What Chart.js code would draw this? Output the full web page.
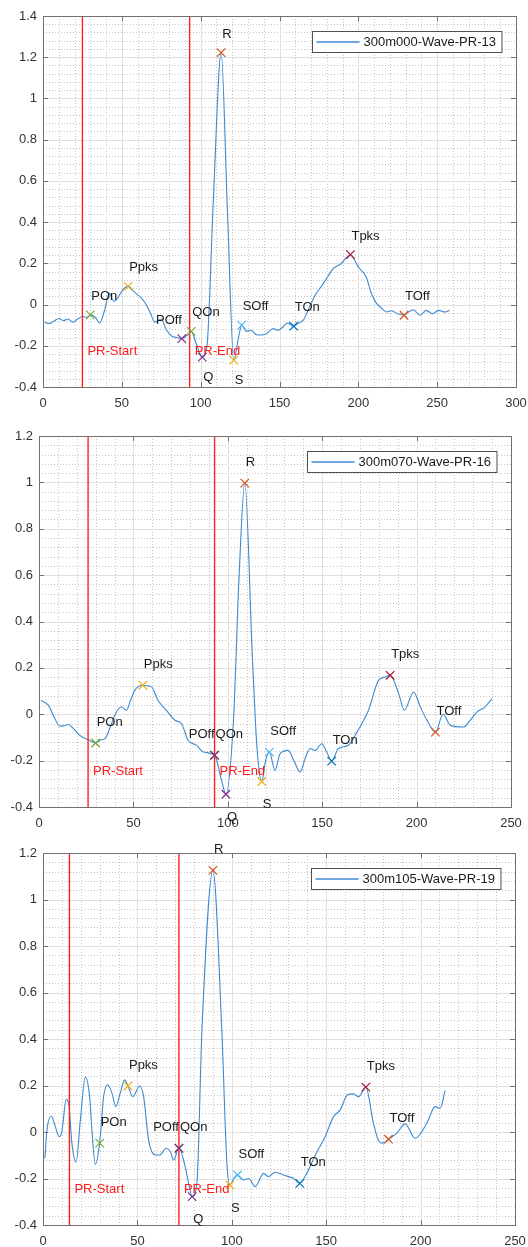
<!DOCTYPE html>
<html>
<head>
<meta charset="utf-8">
<script src="https://cdn.jsdelivr.net/npm/chart.js@4.4.0/dist/chart.umd.min.js"></script>
<style>
  body { margin: 0; background: #fff; }
  canvas { position: absolute; left: 0; }
</style>
</head>
<body>
<canvas id="wave13" width="528" height="415" style="top:0"></canvas>
<canvas id="wave16" width="528" height="415" style="top:415px"></canvas>
<canvas id="wave19" width="528" height="417" style="top:830px"></canvas>
<script>
// fiducial points, in plotting order (QOn first so POff sits on top when they coincide)
const markNames = ['POn', 'Ppks', 'QOn', 'POff', 'Q', 'R', 'S', 'SOff', 'TOn', 'Tpks', 'TOff'];
const markColors = ['#77AC30', '#EDB120', '#77AC30', '#7E2F8E', '#7E2F8E', '#D95319', '#EDB120', '#4DBEEE', '#0072BD', '#A2142F', '#D95319'];
const belowNames = ['Q', 'S'];
const rightAlignNames = ['POff'];

// 300m000-Wave-PR-13
const wave13X = [1, 4, 7, 10, 13, 16, 19, 22, 25, 28, 30, 33, 36, 39, 42, 45, 48, 51, 54, 58, 62, 65, 68, 71, 75, 78, 82, 85, 88, 91, 94, 97, 101, 104, 108, 113, 117, 121, 124, 126, 129, 132, 135, 138, 142, 146, 149, 152, 155, 159, 162, 165, 169, 173, 177, 181, 184, 189, 195, 200, 205, 208, 211, 215, 218, 221, 225, 229, 232, 235, 239, 243, 247, 251, 255, 258];
const wave13Y = [-0.085, -0.092, -0.08, -0.068, -0.078, -0.07, -0.085, -0.07, -0.058, -0.062, -0.05, -0.06, -0.09, -0.03, 0.055, 0.015, 0.04, 0.075, 0.088, 0.06, 0.035, 0.005, -0.04, -0.085, -0.07, -0.12, -0.155, -0.16, -0.165, -0.15, -0.13, -0.185, -0.255, -0.2, 0.5, 1.222, 0.45, -0.27, -0.16, -0.10, -0.13, -0.125, -0.145, -0.148, -0.14, -0.117, -0.125, -0.11, -0.09, -0.105, -0.09, -0.077, -0.012, 0.05, 0.093, 0.14, 0.174, 0.198, 0.242, 0.182, 0.134, 0.06, 0.012, -0.02, -0.036, -0.03, -0.045, -0.052, -0.035, -0.025, -0.052, -0.028, -0.044, -0.028, -0.036, -0.028];
const marks13X = [30, 54, 94, 88, 101, 113, 121, 126, 159, 195, 229];
const marks13Y = [-0.05, 0.088, -0.13, -0.165, -0.255, 1.222, -0.27, -0.10, -0.105, 0.242, -0.052];
const pr13X = [25, 93];
const xTicks13 = [0, 50, 100, 150, 200, 250, 300];
const yTicks13 = [-0.4, -0.2, 0, 0.2, 0.4, 0.6, 0.8, 1, 1.2, 1.4];

// 300m070-Wave-PR-16
const wave16X = [1, 5, 8, 11, 13, 15.5, 18, 21.6, 27, 30, 33, 35, 38.4, 41, 43.7, 46.3, 48.5, 50.7, 55, 59.6, 63, 67.5, 72, 75.5, 79, 83.5, 87, 93, 96.7, 99, 103, 106, 109, 113, 115.5, 118, 120, 122, 125, 127.7, 132, 135, 138.3, 141, 143.6, 146.3, 149.8, 152.5, 155, 158.6, 163.9, 168.4, 174.5, 179.8, 183.4, 186, 190.5, 193.5, 198.4, 202, 205.5, 210, 214, 217.9, 224.9, 228, 232, 236, 240];
const wave16Y = [0.06, 0.038, -0.012, -0.052, -0.05, -0.044, -0.06, -0.091, -0.113, -0.124, -0.11, -0.105, -0.041, 0.01, 0.031, 0.017, 0.06, 0.103, 0.125, 0.118, 0.06, 0.017, -0.026, -0.041, -0.113, -0.134, -0.163, -0.177, -0.285, -0.345, -0.026, 0.6, 0.997, 0.25, -0.15, -0.29, -0.2, -0.163, -0.242, -0.17, -0.156, -0.2, -0.249, -0.19, -0.148, -0.156, -0.127, -0.165, -0.202, -0.148, -0.134, -0.077, 0.017, 0.146, 0.161, 0.168, 0.089, 0.017, 0.096, 0.031, -0.026, -0.077, 0.0, -0.048, -0.055, -0.03, 0.01, 0.03, 0.067];
const marks16X = [30, 55, 93, 93, 99, 109, 118, 122, 155, 186, 210];
const marks16Y = [-0.124, 0.125, -0.177, -0.177, -0.345, 0.997, -0.29, -0.163, -0.202, 0.168, -0.077];
const pr16X = [26, 93];

// 300m105-Wave-PR-19
const wave19X = [1, 2.1, 4.4, 6.5, 8.6, 10, 12.3, 13.6, 15.3, 17.5, 19.8, 22.4, 24.7, 25.9, 27.7, 30, 32.1, 34.2, 36.5, 38.6, 40.9, 43.2, 45, 47.6, 51.2, 53.3, 55.9, 59.5, 61.8, 65.3, 67.4, 69.2, 72, 75.3, 77.1, 79, 81.5, 84.2, 90, 94.7, 97.4, 99, 101, 103, 106.2, 108.9, 112.4, 116.8, 119.4, 123, 127.4, 130, 132.7, 136, 139.7, 144.2, 149.4, 153.9, 157.4, 161.3, 164.4, 167.1, 171, 175, 178, 180, 183, 187.4, 191.8, 197.1, 203.3, 207.7, 210.3, 213];
const wave19Y = [-0.113, 0.009, 0.069, 0.023, -0.02, 0.002, 0.141, 0.124, -0.048, -0.13, 0.052, 0.236, 0.152, 0.009, -0.139, -0.048, 0.152, 0.203, 0.167, 0.109, 0.167, 0.224, 0.198, 0.152, 0.198, 0.152, -0.034, -0.099, -0.099, -0.07, -0.084, -0.12, -0.07, -0.149, -0.22, -0.278, -0.22, 0.44, 1.125, 0.44, -0.134, -0.228, -0.2, -0.185, -0.206, -0.2, -0.235, -0.178, -0.192, -0.173, -0.185, -0.192, -0.199, -0.221, -0.178, -0.1, -0.02, 0.066, 0.095, 0.16, 0.164, 0.152, 0.193, 0.038, -0.041, -0.048, -0.031, -0.005, 0.035, -0.027, 0.038, 0.109, 0.102, 0.178];
const marks19X = [30, 45, 72, 72, 79, 90, 99, 103, 136, 171, 183];
const marks19Y = [-0.048, 0.198, -0.07, -0.07, -0.278, 1.125, -0.228, -0.185, -0.221, 0.193, -0.031];
const pr19X = [14, 72];

const xTicks250 = [0, 50, 100, 150, 200, 250];
const yTicks12 = [-0.4, -0.2, 0, 0.2, 0.4, 0.6, 0.8, 1, 1.2];

const FONT = '"Liberation Sans", Arial, sans-serif';
const waveColor = '#3c8ad0';
const prColor = '#ff2020';
const boxColor = '#707070';

// split every major interval into n parts (minor grid positions)
function subdivide(ticks, n) {
  const out = [];
  for (let i = 0; i < ticks.length - 1; i++) {
    const step = (ticks[i + 1] - ticks[i]) / n;
    for (let k = 1; k < n; k++) out.push(ticks[i] + k * step);
  }
  return out;
}

function fmt(v) {
  return String(Math.round(v * 10) / 10);
}

function makePanel(id, p) {
  const el = document.getElementById(id);
  const canvasH = el.height;
  const xMin = p.xTicks[0], xMax = p.xTicks[p.xTicks.length - 1];
  const yMin = p.yTicks[0], yMax = p.yTicks[p.yTicks.length - 1];

  const decor = {
    id: 'decor',
    beforeDatasetsDraw(chart) {
      const { ctx, chartArea: a, scales: { x, y } } = chart;
      ctx.save();
      ctx.lineWidth = 1;
      // minor grid, dotted
      ctx.strokeStyle = '#c6c6c6';
      ctx.setLineDash([1, 2]);
      ctx.beginPath();
      subdivide(p.xTicks, 5).forEach(v => {
        const px = Math.round(x.getPixelForValue(v)) + 0.5;
        ctx.moveTo(px, a.top); ctx.lineTo(px, a.bottom);
      });
      subdivide(p.yTicks, 5).forEach(v => {
        const py = Math.round(y.getPixelForValue(v)) + 0.5;
        ctx.moveTo(a.left, py); ctx.lineTo(a.right, py);
      });
      ctx.stroke();
      // major grid
      ctx.setLineDash([]);
      ctx.strokeStyle = '#e0e0e0';
      ctx.beginPath();
      p.xTicks.forEach(v => {
        const px = Math.round(x.getPixelForValue(v)) + 0.5;
        ctx.moveTo(px, a.top); ctx.lineTo(px, a.bottom);
      });
      p.yTicks.forEach(v => {
        const py = Math.round(y.getPixelForValue(v)) + 0.5;
        ctx.moveTo(a.left, py); ctx.lineTo(a.right, py);
      });
      ctx.stroke();
      ctx.restore();
    },
    afterDatasetsDraw(chart) {
      const { ctx, chartArea: a, scales: { x, y } } = chart;
      ctx.save();
      // axes box with inward tick marks
      ctx.strokeStyle = boxColor;
      ctx.lineWidth = 1;
      ctx.strokeRect(Math.round(a.left) + 0.5, Math.round(a.top) + 0.5,
        Math.round(a.right - a.left), Math.round(a.bottom - a.top));
      ctx.beginPath();
      p.xTicks.forEach(v => {
        const px = Math.round(x.getPixelForValue(v)) + 0.5;
        ctx.moveTo(px, a.bottom); ctx.lineTo(px, a.bottom - 5);
        ctx.moveTo(px, a.top); ctx.lineTo(px, a.top + 5);
      });
      p.yTicks.forEach(v => {
        const py = Math.round(y.getPixelForValue(v)) + 0.5;
        ctx.moveTo(a.left, py); ctx.lineTo(a.left + 5, py);
        ctx.moveTo(a.right, py); ctx.lineTo(a.right - 5, py);
      });
      ctx.stroke();

      // point names
      ctx.font = '13px ' + FONT;
      ctx.textBaseline = 'middle';
      ctx.fillStyle = '#1a1a1a';
      markNames.forEach((name, i) => {
        const below = belowNames.includes(name);
        const px = x.getPixelForValue(p.marksX[i]);
        const py = y.getPixelForValue(p.marksY[i] + (below ? -0.1 : 0.09));
        if (rightAlignNames.includes(name)) {
          ctx.textAlign = 'right';
          ctx.fillText(name, px, py);
        } else {
          ctx.textAlign = 'left';
          ctx.fillText(name, px + 1, py);
        }
      });

      // PR interval labels
      ctx.fillStyle = '#ff1a1a';
      ctx.textAlign = 'left';
      ['PR-Start', 'PR-End'].forEach((t, i) => {
        ctx.fillText(t, x.getPixelForValue(p.prX[i]) + 5, y.getPixelForValue(p.prLabelY));
      });

      // legend box, top right
      const tw = ctx.measureText(p.name).width;
      const w = 51 + tw + 6, h = 21;
      const lx = Math.round(a.right - 15 - w) + 0.5, ly = Math.round(a.top + 15) + 0.5;
      ctx.fillStyle = '#fff';
      ctx.fillRect(lx, ly, w, h);
      ctx.strokeStyle = '#505050';
      ctx.strokeRect(lx, ly, w, h);
      ctx.strokeStyle = waveColor;
      ctx.lineWidth = 1.3;
      ctx.beginPath();
      ctx.moveTo(lx + 4, ly + h / 2); ctx.lineTo(lx + 47, ly + h / 2);
      ctx.stroke();
      ctx.fillStyle = '#1a1a1a';
      ctx.fillText(p.name, lx + 51, ly + h / 2 + 0.5);
      ctx.restore();
    }
  };

  const tickFont = { family: FONT, size: 13 };

  return new Chart(el, {
    type: 'scatter',
    data: {
      datasets: [
        {
          label: p.name,
          data: p.waveX.map((v, i) => ({ x: v, y: p.waveY[i] })),
          showLine: true,
          borderColor: waveColor,
          borderWidth: 1.1,
          pointRadius: 0,
          cubicInterpolationMode: 'monotone',
          order: 3
        },
        ...p.prX.map(v => ({
          data: [{ x: v, y: yMin }, { x: v, y: yMax }],
          showLine: true,
          borderColor: prColor,
          borderWidth: 1.4,
          pointRadius: 0,
          order: 2
        })),
        {
          data: p.marksX.map((v, i) => ({ x: v, y: p.marksY[i] })),
          pointStyle: 'crossRot',
          pointRadius: 6,
          pointBorderWidth: 1.2,
          pointBorderColor: markColors,
          pointBackgroundColor: markColors,
          showLine: false,
          clip: false,
          order: 1
        }
      ]
    },
    options: {
      responsive: false,
      animation: false,
      devicePixelRatio: 1,
      events: [],
      layout: { padding: { left: 0, top: p.area.top, right: el.width - p.area.right, bottom: 0 } },
      plugins: { legend: { display: false }, tooltip: { enabled: false } },
      scales: {
        x: {
          type: 'linear', min: xMin, max: xMax,
          grid: { display: false, drawTicks: false },
          border: { display: false },
          afterBuildTicks: s => { s.ticks = p.xTicks.map(v => ({ value: v })); },
          afterFit: s => { s.height = canvasH - p.area.bottom; s.paddingLeft = 0; s.paddingRight = 0; },
          ticks: { padding: 9, color: '#333', font: tickFont, maxRotation: 0, autoSkip: false, callback: v => fmt(v) }
        },
        y: {
          type: 'linear', min: yMin, max: yMax,
          grid: { display: false, drawTicks: false },
          border: { display: false },
          afterBuildTicks: s => { s.ticks = p.yTicks.map(v => ({ value: v })); },
          afterFit: s => { s.width = p.area.left; s.paddingTop = 0; s.paddingBottom = 0; },
          ticks: { padding: 6, color: '#333', font: tickFont, autoSkip: false, callback: v => fmt(v) }
        }
      }
    },
    plugins: [decor]
  });
}

makePanel('wave13', {
  name: '300m000-Wave-PR-13',
  waveX: wave13X, waveY: wave13Y, marksX: marks13X, marksY: marks13Y, prX: pr13X,
  xTicks: xTicks13, yTicks: yTicks13, prLabelY: -0.225,
  area: { left: 43, top: 16, right: 516, bottom: 387 }
});

makePanel('wave16', {
  name: '300m070-Wave-PR-16',
  waveX: wave16X, waveY: wave16Y, marksX: marks16X, marksY: marks16Y, prX: pr16X,
  xTicks: xTicks250, yTicks: yTicks12, prLabelY: -0.245,
  area: { left: 39, top: 21, right: 511, bottom: 392 }
});

makePanel('wave19', {
  name: '300m105-Wave-PR-19',
  waveX: wave19X, waveY: wave19Y, marksX: marks19X, marksY: marks19Y, prX: pr19X,
  xTicks: xTicks250, yTicks: yTicks12, prLabelY: -0.245,
  area: { left: 43, top: 23, right: 515, bottom: 395 }
});
</script>
</body>
</html>
